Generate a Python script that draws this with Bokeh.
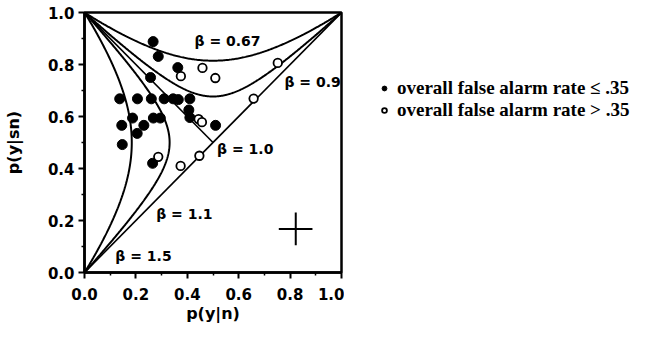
import math
import numpy as np
from bokeh.plotting import figure
from bokeh.layouts import row
from bokeh.models import Range1d, FixedTicker, Label, Legend, LegendItem, PrintfTickFormatter
from bokeh.embed import file_html
from bokeh.resources import INLINE

# ---------------- data ----------------
betas = [0.67, 0.9, 1.0, 1.1, 1.5]
beta_labels = ["\u03b2 = 0.67", "\u03b2 = 0.9", "\u03b2 = 1.0", "\u03b2 = 1.1", "\u03b2 = 1.5"]
label_x = [0.428, 0.778, 0.516, 0.279, 0.120]
label_y = [0.891, 0.731, 0.474, 0.224, 0.064]

low_fa_x = [0.267, 0.287, 0.363, 0.257, 0.137, 0.206, 0.260, 0.310, 0.345, 0.365, 0.410,
            0.187, 0.268, 0.295, 0.406, 0.410, 0.510, 0.145, 0.231, 0.205, 0.147, 0.265]
low_fa_y = [0.888, 0.831, 0.788, 0.750, 0.668, 0.668, 0.668, 0.668, 0.668, 0.665, 0.668,
            0.594, 0.594, 0.594, 0.625, 0.596, 0.566, 0.566, 0.566, 0.535, 0.492, 0.420]

high_fa_x = [0.375, 0.459, 0.509, 0.752, 0.658, 0.444, 0.457, 0.447, 0.374, 0.287]
high_fa_y = [0.755, 0.787, 0.748, 0.806, 0.669, 0.590, 0.578, 0.449, 0.410, 0.445]

err_center = (0.822, 0.167)
err_x_range = (0.756, 0.887)
err_y_range = (0.105, 0.231)

ticks = [0.0, 0.2, 0.4, 0.6, 0.8, 1.0]
minor = [0.1, 0.3, 0.5, 0.7, 0.9]

legend_labels = ["overall false alarm rate \u2264 .35", "overall false alarm rate > .35"]


def phi(z):
    return 0.5 * (1.0 + math.erf(z / math.sqrt(2.0)))


def isobias(beta):
    t = np.linspace(-3.6, 3.6, 600)
    if abs(beta - 1.0) < 1e-9:
        f = [0.0, 0.5]
        return f, [1.0 - v for v in f]
    if beta < 1:
        s = math.sqrt(2 * math.log(1 / beta))
        zf = s * np.sinh(t)
        zh = s * np.cosh(t)
    else:
        s = math.sqrt(2 * math.log(beta))
        zf = -s * np.cosh(t)
        zh = s * np.sinh(t)
    return [phi(v) for v in zf], [phi(v) for v in zh]


LOW_STYLE = dict(size=10, fill_color="black", line_color="black")
HIGH_STYLE = dict(size=8.5, fill_color="white", line_color="black", line_width=1.8)

p = figure(width=344, height=325, x_range=Range1d(0, 1), y_range=Range1d(0, 1),
           output_backend="svg", toolbar_location=None,
           min_border_left=79, min_border_top=12, min_border_right=3, min_border_bottom=53)
p.grid.visible = False
p.outline_line_color = "black"
p.outline_line_width = 2.5
p.background_fill_color = "white"
p.border_fill_color = "white"

for ax in (p.xaxis[0], p.yaxis[0]):
    ax.ticker = FixedTicker(ticks=ticks, minor_ticks=minor)
    ax.formatter = PrintfTickFormatter(format="%.1f")
    ax.axis_line_width = 2.5
    ax.major_tick_line_width = 2
    ax.minor_tick_line_width = 1.5
    ax.major_tick_out = 6
    ax.major_tick_in = 0
    ax.minor_tick_out = 3
    ax.minor_tick_in = 0
    ax.major_label_text_font = "DejaVu Sans"
    ax.major_label_text_font_style = "bold"
    ax.major_label_text_font_size = "15px"
    ax.major_label_text_color = "black"
    ax.axis_label_text_font = "DejaVu Sans"
    ax.axis_label_text_font_style = "bold"
    ax.axis_label_text_font_size = "16px"
    ax.axis_label_text_color = "black"

p.xaxis.axis_label = "p(y|n)"
p.yaxis.axis_label = "p(y|sn)"
p.xaxis.major_label_standoff = 9
p.xaxis.axis_label_standoff = 1
p.yaxis.major_label_standoff = 4
p.yaxis.axis_label_standoff = 22

# chance diagonal
p.line([0, 1], [0, 1], line_color="black", line_width=1.6)

for b in betas:
    fx, hy = isobias(b)
    p.line(fx, hy, line_color="black", line_width=2 if b != 1.0 else 1.6)

for txt, lx, ly in zip(beta_labels, label_x, label_y):
    p.add_layout(Label(x=lx, y=ly, text=txt, text_font="DejaVu Sans", text_font_style="bold",
                       text_font_size="14px", text_baseline="middle", text_align="left",
                       text_color="black"))

p.scatter(low_fa_x, low_fa_y, **LOW_STYLE)
p.scatter(high_fa_x, high_fa_y, **HIGH_STYLE)

# error cross
p.segment(x0=[err_x_range[0], err_center[0]], y0=[err_center[1], err_y_range[0]],
          x1=[err_x_range[1], err_center[0]], y1=[err_center[1], err_y_range[1]],
          line_color="black", line_width=2)

# ---- legend panel (its ranges keep the real data off-screen; only the legend shows) ----
lg = figure(width=292, height=325, x_range=Range1d(5, 6), y_range=Range1d(5, 6),
            output_backend="svg", toolbar_location=None,
            min_border_left=0, min_border_right=0, min_border_top=12, min_border_bottom=53)
lg.axis.visible = False
lg.grid.visible = False
lg.outline_line_color = None
lg.background_fill_color = "white"
lg.border_fill_color = "white"
rl = lg.scatter(low_fa_x, low_fa_y, **LOW_STYLE)
rh = lg.scatter(high_fa_x, high_fa_y, **HIGH_STYLE)
legend = Legend(items=[LegendItem(label=legend_labels[0], renderers=[rl]),
                       LegendItem(label=legend_labels[1], renderers=[rh])],
                location=(34, 151), border_line_color=None, background_fill_alpha=0,
                label_text_font="Liberation Serif", label_text_font_size="19px",
                label_text_font_style="bold",
                label_text_color="black", padding=0, margin=0, glyph_width=12,
                glyph_height=18, label_height=18, spacing=0, label_standoff=7)
lg.add_layout(legend)

layout = row(p, lg)
open("out.html", "w").write(file_html(layout, INLINE))
